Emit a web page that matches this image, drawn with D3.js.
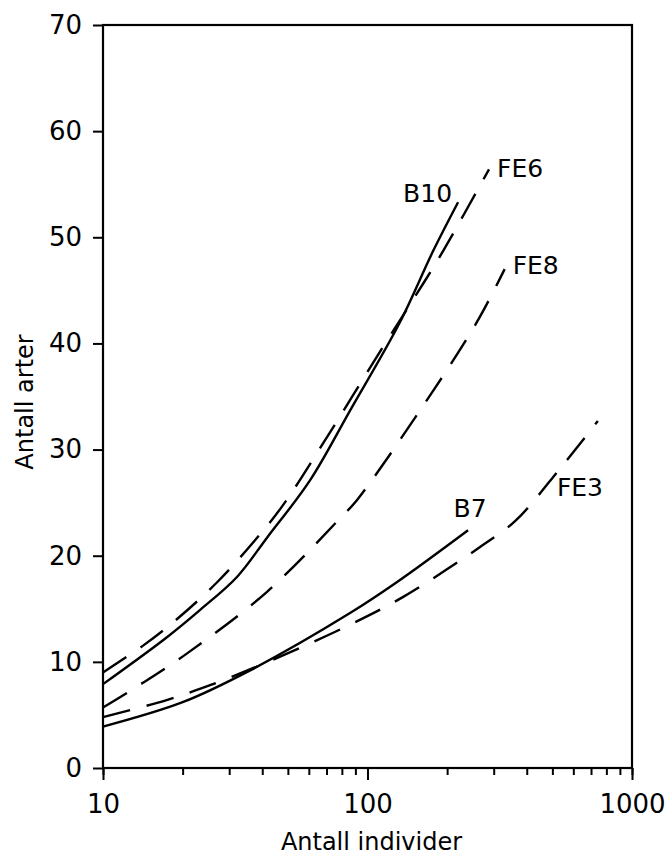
<!DOCTYPE html>
<html>
<head>
<meta charset="utf-8">
<script src="https://cdn.jsdelivr.net/npm/d3@7"></script>
<style>
  body { margin: 0; background: #fff; }
  svg { display: block; }
</style>
</head>
<body>
<svg id="chart" width="667" height="857"></svg>
<script>
const b10X = [10, 17.4, 23.3, 32.1, 41.7, 60.6, 86, 132, 177, 220]
const b10Y = [7.9, 12.3, 14.9, 18.0, 21.7, 27.1, 33.7, 41.9, 48.7, 53.3]

const fe6X = [10, 14.3, 19.4, 27, 36.8, 47.4, 68, 112, 162, 193, 288]
const fe6Y = [9.0, 11.6, 14.2, 17.5, 21.2, 24.6, 30.6, 39.3, 45.6, 48.7, 56.4]

const fe8X = [10, 13.7, 20.8, 41.7, 80.7, 91, 162, 259, 330]
const fe8Y = [5.7, 7.8, 10.8, 16.6, 23.8, 25.2, 34.1, 42.0, 47.0]

const b7X = [10, 20, 36, 85.9, 129, 240]
const b7Y = [3.9, 6.2, 9.2, 14.6, 17.5, 22.4]

const fe3X = [10, 17.4, 25.4, 43.9, 85.9, 136, 273, 363, 534, 743]
const fe3Y = [4.8, 6.4, 7.8, 10.2, 13.5, 16.1, 21.0, 23.3, 28.2, 32.7]

const xTickValues = [10, 100, 1000]
const yTickValues = [0, 10, 20, 30, 40, 50, 60, 70]

const svg = d3.select('#chart')
const font = "'DejaVu Sans', sans-serif"
const ink = '#000'

const plotLeft = 103
const plotRight = 632
const plotTop = 25
const plotBottom = 768

const x = d3.scaleLog().domain([10, 1000]).range([plotLeft, plotRight])
const y = d3.scaleLinear().domain([0, 70]).range([plotBottom, plotTop])

// frame
svg.append('rect')
  .attr('x', plotLeft).attr('y', plotTop)
  .attr('width', plotRight - plotLeft).attr('height', plotBottom - plotTop)
  .attr('fill', 'none').attr('stroke', ink).attr('stroke-width', 2.2)

// x axis, minor ticks first
svg.append('g')
  .attr('transform', `translate(0, ${plotBottom})`)
  .call(d3.axisBottom(x).tickValues(x.ticks()).tickSize(7).tickFormat(''))
  .call(g => g.select('.domain').remove())
  .selectAll('line').attr('stroke', ink).attr('stroke-width', 2)

const xAxis = svg.append('g')
  .attr('transform', `translate(0, ${plotBottom})`)
  .call(d3.axisBottom(x).tickValues(xTickValues).tickSize(12).tickFormat(d3.format('d')))
xAxis.select('.domain').remove()
xAxis.selectAll('line').attr('stroke', ink).attr('stroke-width', 2)
xAxis.selectAll('text')
  .attr('y', 45).attr('dy', 0)
  .attr('font-family', font).attr('font-size', 26).attr('fill', ink)

const yAxis = svg.append('g')
  .attr('transform', `translate(${plotLeft}, 0)`)
  .call(d3.axisLeft(y).tickValues(yTickValues).tickSize(10).tickPadding(11))
yAxis.select('.domain').remove()
yAxis.selectAll('line').attr('stroke', ink).attr('stroke-width', 2)
yAxis.selectAll('text')
  .attr('font-family', font).attr('font-size', 26).attr('fill', ink)

// axis titles
svg.append('text')
  .attr('x', (plotLeft + plotRight) / 2 + 4).attr('y', 850)
  .attr('text-anchor', 'middle')
  .attr('font-family', font).attr('font-size', 24).attr('fill', ink)
  .text('Antall individer')

svg.append('text')
  .attr('transform', `translate(33, 402) rotate(-90)`)
  .attr('text-anchor', 'middle')
  .attr('font-family', font).attr('font-size', 24).attr('fill', ink)
  .text('Antall arter')

// curves
const series = [
  { name: 'B10', xs: b10X, ys: b10Y, dashed: false },
  { name: 'FE6', xs: fe6X, ys: fe6Y, dashed: true },
  { name: 'FE8', xs: fe8X, ys: fe8Y, dashed: true },
  { name: 'B7', xs: b7X, ys: b7Y, dashed: false },
  { name: 'FE3', xs: fe3X, ys: fe3Y, dashed: true }
]

const line = d3.line()
  .x(d => x(d[0]))
  .y(d => y(d[1]))
  .curve(d3.curveCatmullRom.alpha(0.5))

svg.selectAll('path.curve')
  .data(series)
  .enter()
  .append('path')
    .attr('class', 'curve')
    .attr('d', s => line(s.xs.map((v, i) => [v, s.ys[i]])))
    .attr('fill', 'none')
    .attr('stroke', ink)
    .attr('stroke-width', 2.4)
    .attr('stroke-dasharray', s => s.dashed ? '28,17' : null)

// curve labels: which point they hang on, and how far off it
const labelPlace = {
  B10: { at: -1, dx: -6, dy: 0, anchor: 'end' },
  FE6: { at: -1, dx: 8, dy: 8, anchor: 'start' },
  FE8: { at: -1, dx: 8, dy: 5, anchor: 'start' },
  B7: { at: -1, dx: 2, dy: -13, anchor: 'middle' },
  FE3: { at: 8, dx: -3, dy: 27, anchor: 'start' }
}

series.forEach(s => {
  const p = labelPlace[s.name]
  const i = p.at < 0 ? s.xs.length - 1 : p.at
  svg.append('text')
    .attr('x', x(s.xs[i]) + p.dx)
    .attr('y', y(s.ys[i]) + p.dy)
    .attr('text-anchor', p.anchor)
    .attr('font-family', font).attr('font-size', 25).attr('fill', ink)
    .text(s.name)
})
</script>
</body>
</html>
